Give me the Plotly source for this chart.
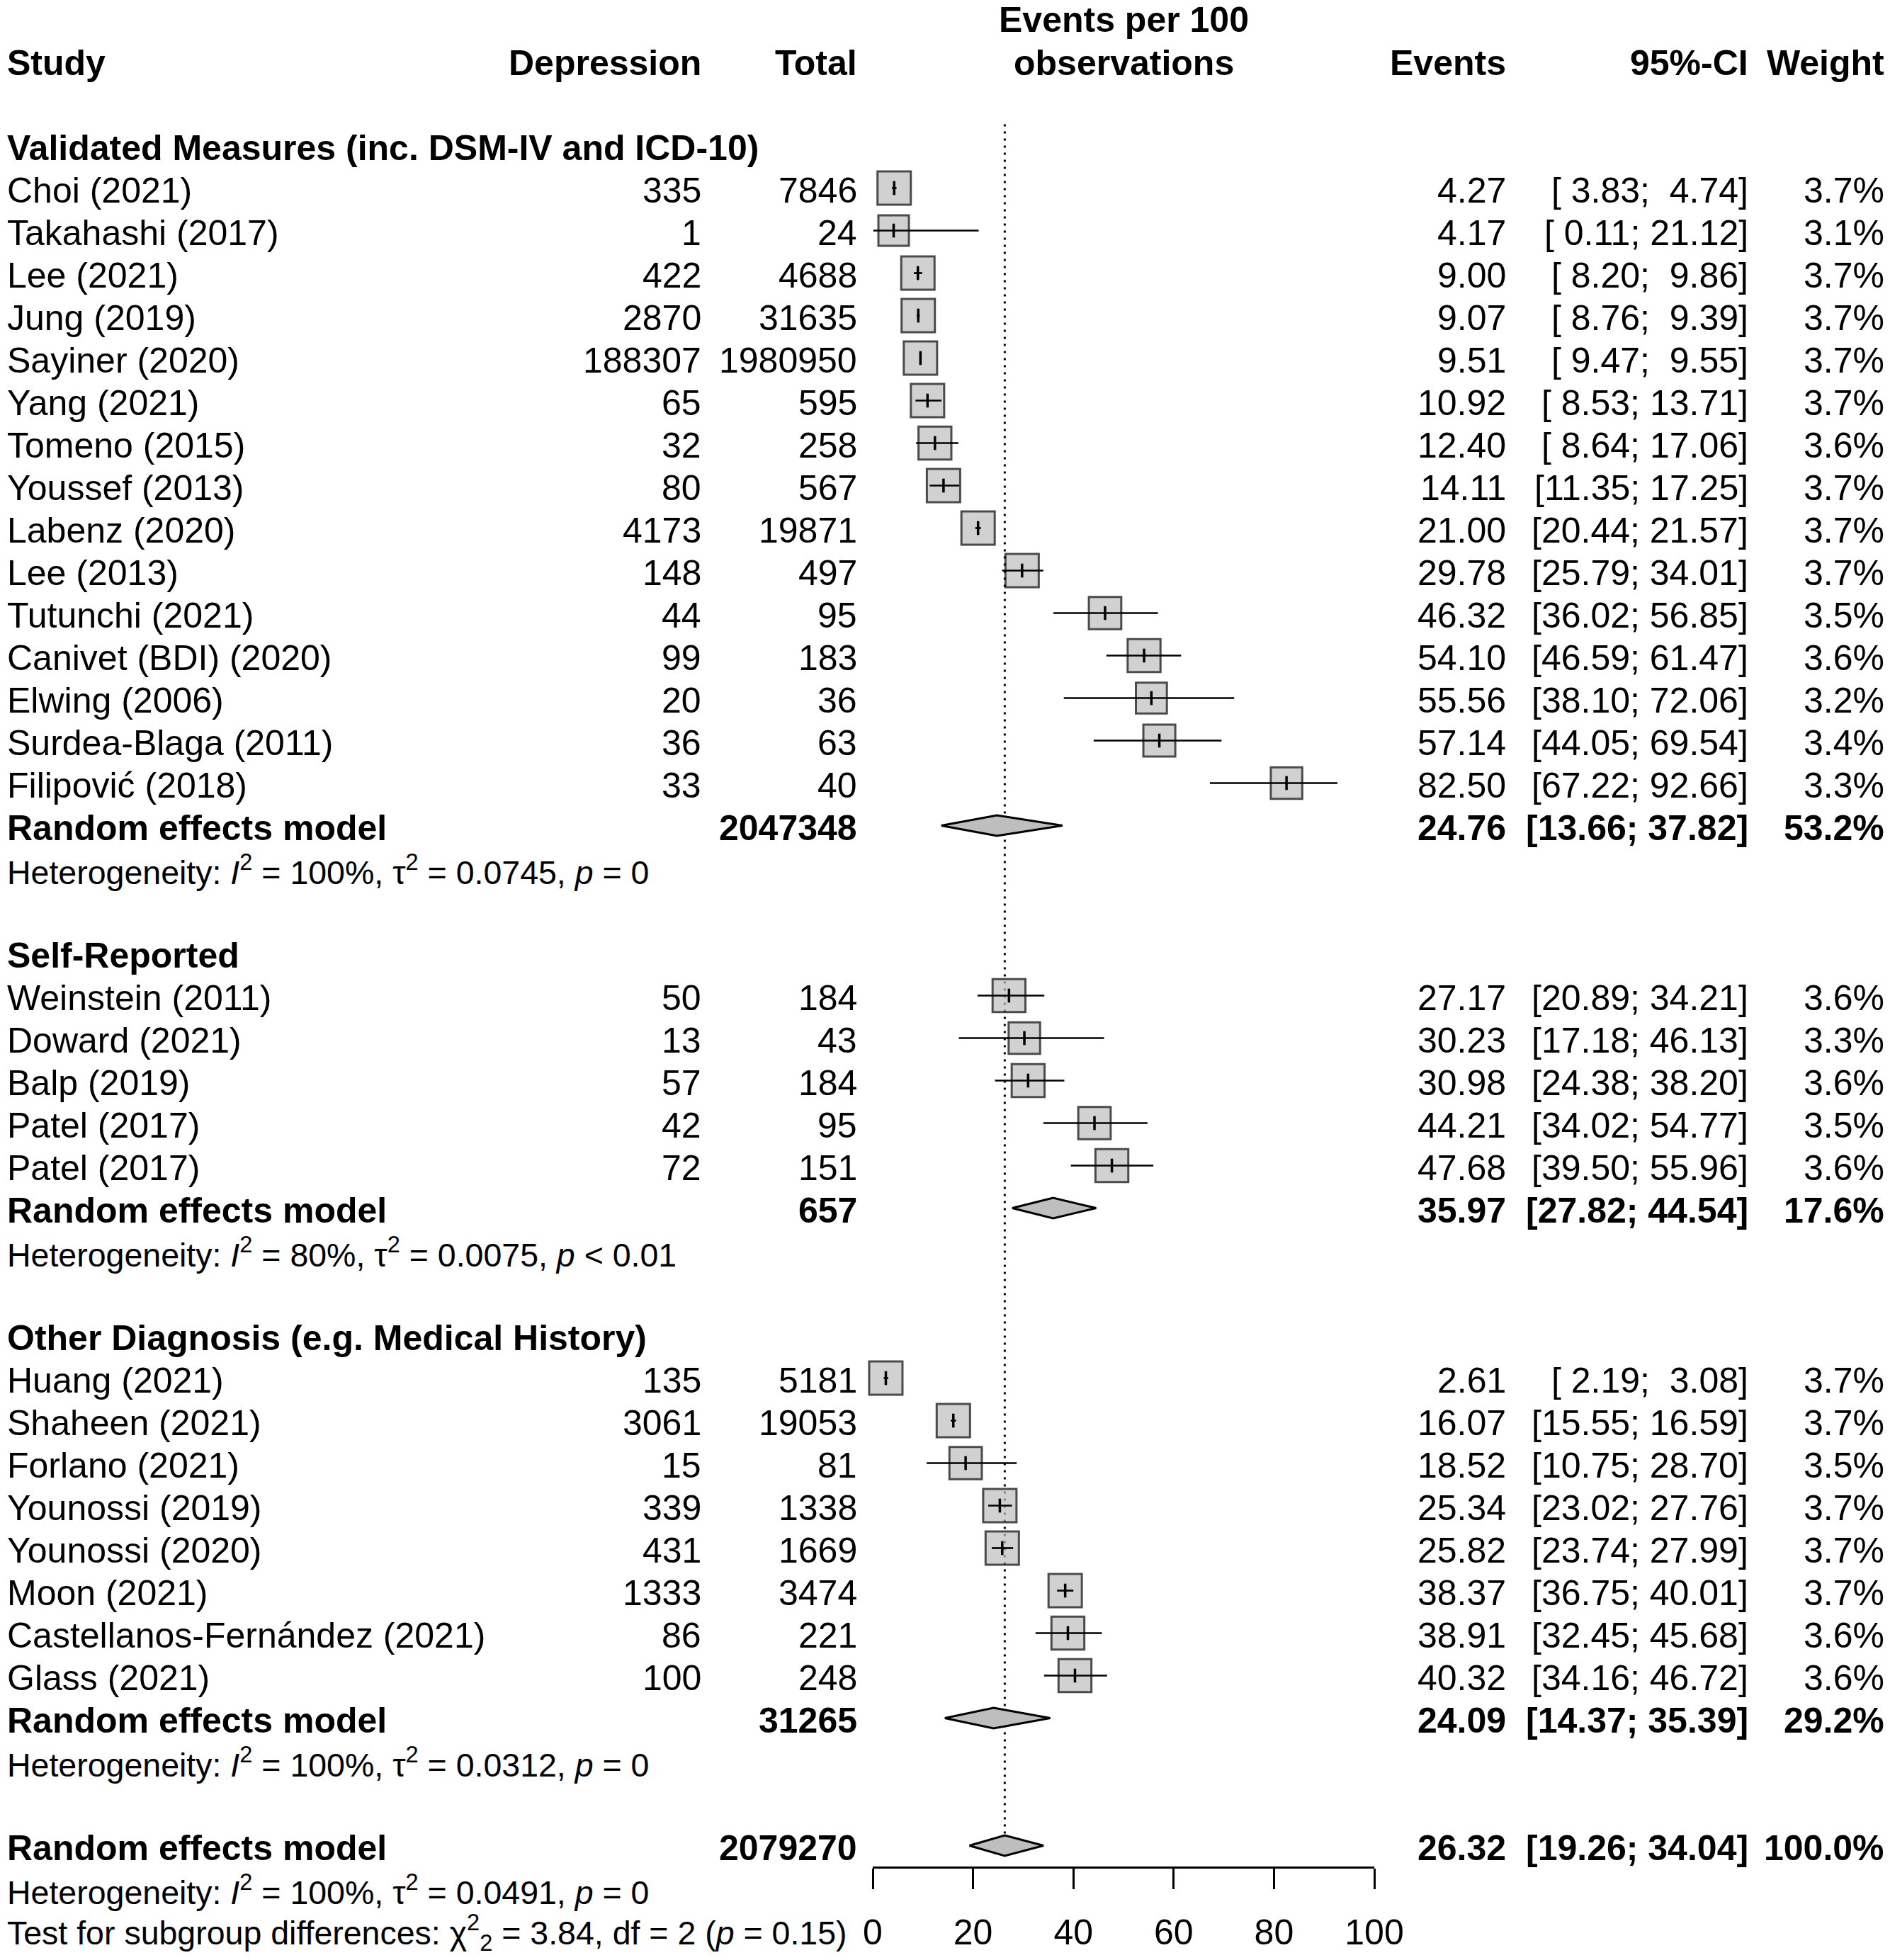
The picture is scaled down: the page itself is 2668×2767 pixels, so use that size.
import plotly.graph_objects as go

W, H = 2668, 2767
FS = 50
FS_HET = 46.5
FONT = "Liberation Sans, Arial, Helvetica, sans-serif"
NB = "\u00a0"

# ---------------- data ----------------
group_titles = [
    "Validated Measures (inc. DSM-IV and ICD-10)",
    "Self-Reported",
    "Other Diagnosis (e.g. Medical History)",
]

g1_studies = ["Choi (2021)", "Takahashi (2017)", "Lee (2021)", "Jung (2019)", "Sayiner (2020)",
              "Yang (2021)", "Tomeno (2015)", "Youssef (2013)", "Labenz (2020)", "Lee (2013)",
              "Tutunchi (2021)", "Canivet (BDI) (2020)", "Elwing (2006)", "Surdea-Blaga (2011)",
              "Filipović (2018)"]
g1_depression = [335, 1, 422, 2870, 188307, 65, 32, 80, 4173, 148, 44, 99, 20, 36, 33]
g1_total = [7846, 24, 4688, 31635, 1980950, 595, 258, 567, 19871, 497, 95, 183, 36, 63, 40]
g1_events = [4.27, 4.17, 9.00, 9.07, 9.51, 10.92, 12.40, 14.11, 21.00, 29.78, 46.32, 54.10, 55.56, 57.14, 82.50]
g1_lower = [3.83, 0.11, 8.20, 8.76, 9.47, 8.53, 8.64, 11.35, 20.44, 25.79, 36.02, 46.59, 38.10, 44.05, 67.22]
g1_upper = [4.74, 21.12, 9.86, 9.39, 9.55, 13.71, 17.06, 17.25, 21.57, 34.01, 56.85, 61.47, 72.06, 69.54, 92.66]
g1_weight = [3.7, 3.1, 3.7, 3.7, 3.7, 3.7, 3.6, 3.7, 3.7, 3.7, 3.5, 3.6, 3.2, 3.4, 3.3]

g2_studies = ["Weinstein (2011)", "Doward (2021)", "Balp (2019)", "Patel (2017)", "Patel (2017)"]
g2_depression = [50, 13, 57, 42, 72]
g2_total = [184, 43, 184, 95, 151]
g2_events = [27.17, 30.23, 30.98, 44.21, 47.68]
g2_lower = [20.89, 17.18, 24.38, 34.02, 39.50]
g2_upper = [34.21, 46.13, 38.20, 54.77, 55.96]
g2_weight = [3.6, 3.3, 3.6, 3.5, 3.6]

g3_studies = ["Huang (2021)", "Shaheen (2021)", "Forlano (2021)", "Younossi (2019)", "Younossi (2020)",
              "Moon (2021)", "Castellanos-Fernández (2021)", "Glass (2021)"]
g3_depression = [135, 3061, 15, 339, 431, 1333, 86, 100]
g3_total = [5181, 19053, 81, 1338, 1669, 3474, 221, 248]
g3_events = [2.61, 16.07, 18.52, 25.34, 25.82, 38.37, 38.91, 40.32]
g3_lower = [2.19, 15.55, 10.75, 23.02, 23.74, 36.75, 32.45, 34.16]
g3_upper = [3.08, 16.59, 28.70, 27.76, 27.99, 40.01, 45.68, 46.72]
g3_weight = [3.7, 3.7, 3.5, 3.7, 3.7, 3.7, 3.6, 3.6]

re_total = [2047348, 657, 31265]
re_events = [24.76, 35.97, 24.09]
re_lower = [13.66, 27.82, 14.37]
re_upper = [37.82, 44.54, 35.39]
re_weight = [53.2, 17.6, 29.2]
het_I2 = ["100%", "80%", "100%"]
het_tau2 = ["0.0745", "0.0075", "0.0312"]
het_p = ["= 0", "< 0.01", "= 0"]

overall_total = 2079270
overall_events = 26.32
overall_lower = 19.26
overall_upper = 34.04
overall_weight = 100.0
overall_I2 = "100%"
overall_tau2 = "0.0491"
overall_p = "= 0"
test_chi2 = "3.84"
test_df = "2"
test_p = "0.15"

x_ticks = [0, 20, 40, 60, 80, 100]

groups = [
    (g1_studies, g1_depression, g1_total, g1_events, g1_lower, g1_upper, g1_weight),
    (g2_studies, g2_depression, g2_total, g2_events, g2_lower, g2_upper, g2_weight),
    (g3_studies, g3_depression, g3_total, g3_events, g3_lower, g3_upper, g3_weight),
]

# ---------------- layout constants (pixels) ----------------
COL_STUDY = 10
COL_DEP = 990
COL_TOTAL = 1210
COL_EVENTS = 2126
COL_CI = 2468
COL_WEIGHT = 2660
AX_LEFT, AX_RIGHT = 1232, 1940
AX_LINE_Y = 2636
ROW0 = 25.5
ROWH = 60.0
DIAMOND_HALF = 0.24
BOX_REF = 47.0
TEXT_SHIFT = -3


def fmt_ci(lo, hi):
    return ("[" + f"{lo:5.2f}" + "; " + f"{hi:5.2f}" + "]").replace(" ", NB)


annotations = []


def add_text(txt, xpx, row, anchor, bold=False, size=FS, yanchor="middle", yshift=TEXT_SHIFT):
    if bold:
        txt = f"<b>{txt}</b>"
    annotations.append(dict(text=txt, x=xpx / W, xref="paper", y=row, yref="y",
                            xanchor=anchor, yanchor=yanchor, yshift=yshift, showarrow=False,
                            borderpad=0, borderwidth=0,
                            font=dict(size=size, family=FONT, color="black")))


def het_text(i2, tau2, p):
    return (f"Heterogeneity: <i>I</i><sup>2</sup> = {i2}, τ<sup>2</sup> = {tau2}, "
            f"<i>p</i> {p}")


y_top = -ROW0 / ROWH
y_bot = (H - ROW0) / ROWH

# headers
add_text("Events per 100", (AX_LEFT + AX_RIGHT) / 2, y_top, "center", True, yanchor="top", yshift=0)
add_text("observations", (AX_LEFT + AX_RIGHT) / 2, 1, "center", True)
add_text("Study", COL_STUDY, 1, "left", True)
add_text("Depression", COL_DEP, 1, "right", True)
add_text("Total", COL_TOTAL, 1, "right", True)
add_text("Events", COL_EVENTS, 1, "right", True)
add_text("95%-CI", COL_CI, 1, "right", True)
add_text("Weight", COL_WEIGHT, 1, "right", True)

box_x, box_y, box_s = [], [], []
ci_x, ci_y = [], []
dia_x, dia_y = [], []

row = 3
for gi, (names, dep, tot, ev, lo, hi, wt) in enumerate(groups):
    add_text(group_titles[gi], COL_STUDY, row, "left", True)
    row += 1
    for j in range(len(names)):
        add_text(names[j], COL_STUDY, row, "left")
        add_text(str(dep[j]), COL_DEP, row, "right")
        add_text(str(tot[j]), COL_TOTAL, row, "right")
        add_text(f"{ev[j]:.2f}", COL_EVENTS, row, "right")
        add_text(fmt_ci(lo[j], hi[j]), COL_CI, row, "right")
        add_text(f"{wt[j]:.1f}%", COL_WEIGHT, row, "right")
        box_x.append(ev[j]); box_y.append(row); box_s.append(BOX_REF * (wt[j] / 3.7) ** 0.5)
        ci_x += [lo[j], hi[j], None]; ci_y += [row, row, None]
        row += 1
    # random effects row
    add_text("Random effects model", COL_STUDY, row, "left", True)
    add_text(str(re_total[gi]), COL_TOTAL, row, "right", True)
    add_text(f"{re_events[gi]:.2f}", COL_EVENTS, row, "right", True)
    add_text(fmt_ci(re_lower[gi], re_upper[gi]), COL_CI, row, "right", True)
    add_text(f"{re_weight[gi]:.1f}%", COL_WEIGHT, row, "right", True)
    dia_x += [re_lower[gi], re_events[gi], re_upper[gi], re_events[gi], re_lower[gi], None]
    dia_y += [row, row - DIAMOND_HALF, row, row + DIAMOND_HALF, row, None]
    row += 1
    add_text(het_text(het_I2[gi], het_tau2[gi], het_p[gi]), COL_STUDY, row, "left", size=FS_HET)
    row += 2

# overall
add_text("Random effects model", COL_STUDY, row, "left", True)
add_text(str(overall_total), COL_TOTAL, row, "right", True)
add_text(f"{overall_events:.2f}", COL_EVENTS, row, "right", True)
add_text(fmt_ci(overall_lower, overall_upper), COL_CI, row, "right", True)
add_text(f"{overall_weight:.1f}%", COL_WEIGHT, row, "right", True)
dia_x += [overall_lower, overall_events, overall_upper, overall_events, overall_lower, None]
dia_y += [row, row - DIAMOND_HALF, row, row + DIAMOND_HALF, row, None]
overall_row = row
row += 1
add_text(het_text(overall_I2, overall_tau2, overall_p), COL_STUDY, row, "left", size=FS_HET)
row += 1
add_text(f"Test for subgroup differences: χ<sup>2</sup><sub>2</sub> = {test_chi2}, df = {test_df} "
         f"(<i>p</i> = {test_p})", COL_STUDY, row, "left", size=FS_HET)

fig = go.Figure()

# reference (dotted) line at overall estimate
fig.add_trace(go.Scatter(x=[overall_events, overall_events], y=[2.5, overall_row],
                         mode="lines", line=dict(color="black", width=3, dash="3px,7px"),
                         hoverinfo="skip", cliponaxis=False))
# squares
fig.add_trace(go.Scatter(x=box_x, y=box_y, mode="markers",
                         marker=dict(symbol="square", size=box_s, color="#BEBEBE",
                                     line=dict(color="black", width=3)),
                         hoverinfo="skip", cliponaxis=False))
# CI lines
fig.add_trace(go.Scatter(x=ci_x, y=ci_y, mode="lines", line=dict(color="black", width=2.7),
                         hoverinfo="skip", cliponaxis=False))
# point estimate ticks
fig.add_trace(go.Scatter(x=box_x, y=box_y, mode="markers",
                         marker=dict(symbol="line-ns", size=14, line=dict(color="black", width=3.5)),
                         hoverinfo="skip", cliponaxis=False))
# diamonds
fig.add_trace(go.Scatter(x=dia_x, y=dia_y, mode="lines", fill="toself", fillcolor="#BEBEBE",
                         line=dict(color="black", width=3), hoverinfo="skip", cliponaxis=False))

fig.update_layout(
    width=W, height=H, autosize=False,
    margin=dict(l=0, r=0, t=0, b=0, pad=0, autoexpand=False),
    paper_bgcolor="white", plot_bgcolor="white",
    showlegend=False,
    font=dict(family=FONT, size=FS, color="black"),
    annotations=annotations,
    xaxis=dict(domain=[AX_LEFT / W, AX_RIGHT / W], range=[0, 100], anchor="free",
               position=(H - AX_LINE_Y) / H, showline=True, linecolor="black", linewidth=3,
               ticks="outside", ticklen=29, tickwidth=3, tickcolor="black",
               tickvals=x_ticks, ticktext=[str(t) for t in x_ticks], ticklabelstandoff=18,
               tickfont=dict(size=FS, family=FONT, color="black"), automargin=False,
               showgrid=False, zeroline=False, fixedrange=True),
    yaxis=dict(domain=[0, 1], range=[y_bot, y_top], visible=False, showgrid=False,
               zeroline=False, fixedrange=True, automargin=False),
)

fig.write_html("out.html", config={"displayModeBar": False},
               post_script="document.body.style.margin='0px';document.body.style.overflow='hidden';")
